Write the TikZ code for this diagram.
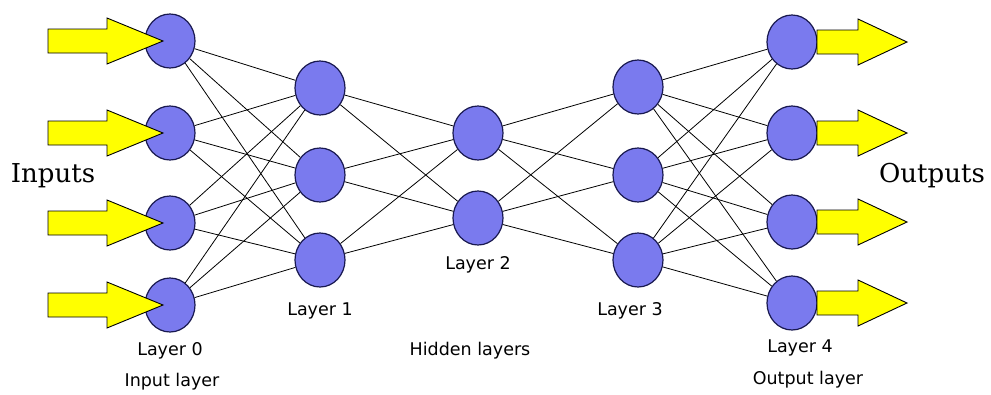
\documentclass[tikz,border=0pt]{standalone}
\usepackage{fontspec}
\usepackage{tikz}
\usetikzlibrary{positioning,shapes.geometric}
\newfontfamily\labelfont{DejaVu Sans}
\newfontfamily\iofont{DejaVu Serif}
\definecolor{neuronblue}{RGB}{122,122,238}
\definecolor{neuronedge}{RGB}{25,25,80}
\definecolor{arrowyellow}{RGB}{255,255,0}
\tikzset{neuron/.style={ellipse,fill=neuronblue,draw=neuronedge,line width=1.2pt,
                        minimum width=50pt,minimum height=54pt,inner sep=0pt},
         blockarrow/.style={fill=arrowyellow,draw=black,line width=0.9pt,line join=miter},
         layerlabel/.style={font=\labelfont\fontsize{17.5}{20}\selectfont,inner sep=0pt},
         iolabel/.style={font=\iofont\fontsize{26}{30}\selectfont,inner sep=0pt}}

\begin{document}
\begin{tikzpicture}[x=1pt,y=-1pt,node distance=3.0cm,semithick]
  \useasboundingbox (0,0) rectangle (991,394);

  % layers
  \node[neuron] (l0n1) at (170,41)  {};
  \node[neuron] (l0n2) at (170,133) {};
  \node[neuron] (l0n3) at (170,223) {};
  \node[neuron] (l0n4) at (170,305) {};

  \node[neuron] (l1n1) at (320,88)  {};
  \node[neuron] (l1n2) at (320,175) {};
  \node[neuron] (l1n3) at (320,260) {};

  \node[neuron] (l2n1) at (478,133) {};
  \node[neuron] (l2n2) at (478,218) {};

  \node[neuron] (l3n1) at (638,87)  {};
  \node[neuron] (l3n2) at (638,175) {};
  \node[neuron] (l3n3) at (638,260) {};

  \node[neuron] (l4n1) at (792,42)  {};
  \node[neuron] (l4n2) at (792,133) {};
  \node[neuron] (l4n3) at (792,222) {};
  \node[neuron] (l4n4) at (792,303) {};

  % weights
  \foreach \a in {1,...,4}
    \foreach \b in {1,...,3}
      \draw[line width=0.8pt] (l0n\a) -- (l1n\b);
  \foreach \a in {1,...,3}
    \foreach \b in {1,2}
      \draw[line width=0.8pt] (l1n\a) -- (l2n\b);
  \foreach \a in {1,2}
    \foreach \b in {1,...,3}
      \draw[line width=0.8pt] (l2n\a) -- (l3n\b);
  \foreach \a in {1,...,3}
    \foreach \b in {1,...,4}
      \draw[line width=0.8pt] (l3n\a) -- (l4n\b);

  % in and out arrows
  \foreach \i in {1,...,4}
    \draw[blockarrow,shift={(l0n\i.center)}] (-122,-12) -- (-63,-12) -- (-63,-23)
      -- (-7,0) -- (-63,23) -- (-63,12) -- (-122,12) -- cycle;
  \foreach \i in {1,...,4}
    \draw[blockarrow,shift={(l4n\i.center)}] (25,-12) -- (66,-12) -- (66,-23)
      -- (115,0) -- (66,23) -- (66,12) -- (25,12) -- cycle;

  % labels
  \node[iolabel] (inputs)  at (53,176)  {Inputs};
  \node[iolabel] (outputs) at (932,176) {Outputs};

  \node[layerlabel] (lab0) at (170,351)           {Layer 0};
  \node[layerlabel] (inl)  at (172,382)           {Input layer};
  \node[layerlabel] (lab1) [below=15pt of l1n3]   {Layer 1};
  \node[layerlabel] (lab2) [below=11pt of l2n2]   {Layer 2};
  \node[layerlabel] (hid)  at (470,351)           {Hidden layers};
  \node[layerlabel] (lab3) [below=15pt of l3n3,xshift=-8pt] {Layer 3};
  \node[layerlabel] (lab4) at (800,348)           {Layer 4};
  \node[layerlabel] (outl) at (808,380)           {Output layer};
\end{tikzpicture}
\end{document}
